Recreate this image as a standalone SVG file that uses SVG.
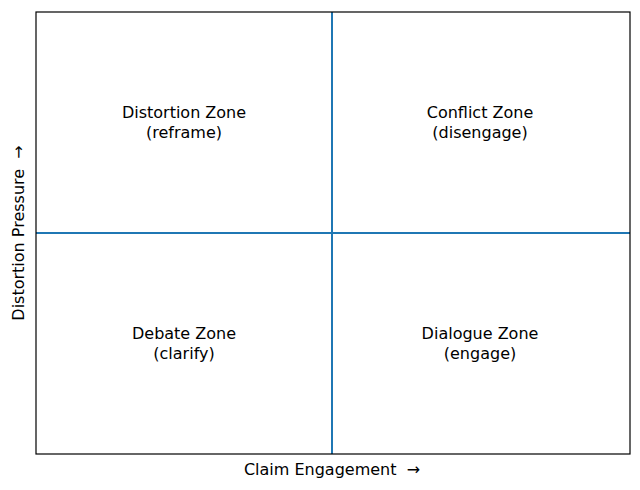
<svg xmlns="http://www.w3.org/2000/svg" width="640" height="490" viewBox="0 0 640 490">
<style>
text{font-family:"DejaVu Sans",sans-serif;font-size:16px;fill:#000;text-anchor:middle}
.ln{stroke:#1f77b4;stroke-width:2;fill:none}
</style>
<rect width="640" height="490" fill="#fff"/>
<g id="connectors">
<line class="ln" x1="332" y1="12" x2="332" y2="454"/>
<line class="ln" x1="36" y1="233" x2="630" y2="233"/>
</g>
<rect x="36" y="12" width="594" height="442" fill="none" stroke="#000" stroke-width="1.2"/>
<g id="distortion"><text x="184" y="118">Distortion Zone</text><text x="184" y="138">(reframe)</text></g>
<g id="conflict"><text x="480" y="118">Conflict Zone</text><text x="480" y="138">(disengage)</text></g>
<g id="debate"><text x="184" y="339">Debate Zone</text><text x="184" y="359">(clarify)</text></g>
<g id="dialogue"><text x="480" y="339">Dialogue Zone</text><text x="480" y="359">(engage)</text></g>
<text x="332" y="475" xml:space="preserve">Claim Engagement  →</text>
<text transform="translate(24,233) rotate(-90)" xml:space="preserve">Distortion Pressure  →</text>
</svg>
